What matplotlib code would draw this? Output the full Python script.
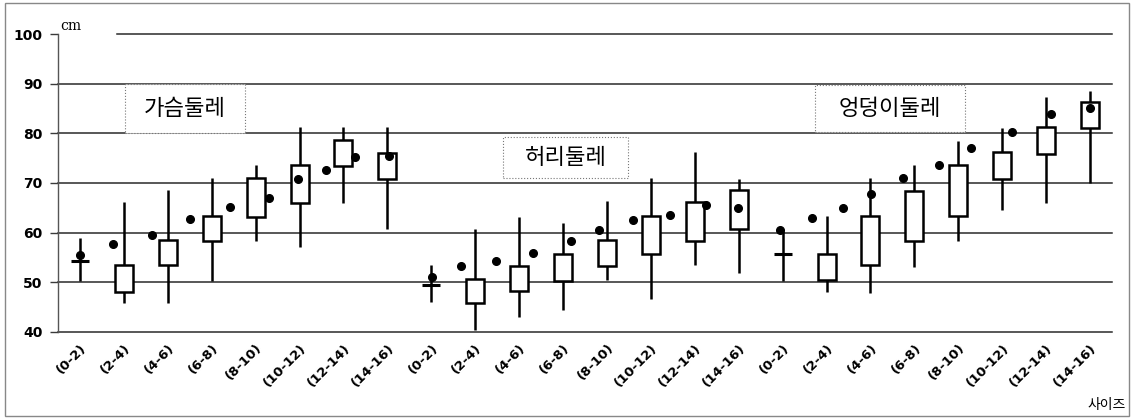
import numpy as np
from matplotlib import pyplot as plt
from matplotlib.patches import Rectangle

plt.rcParams['font.family'] = ['DejaVu Sans', 'Noto Sans CJK KR']

# size groups (same for each measurement)
sizes = ["(0-2)", "(2-4)", "(4-6)", "(6-8)", "(8-10)", "(10-12)", "(12-14)", "(14-16)"]
groups = ["가슴둘레", "허리둘레", "엉덩이둘레"]

# chest
chest_lo = [50.2, 45.8, 45.8, 50.3, 58.3, 57.0, 65.9, 60.7]
chest_q1 = [54.2, 48.1, 53.4, 58.3, 63.2, 66.0, 73.5, 70.8]
chest_q3 = [54.2, 53.4, 58.4, 63.4, 71.0, 73.7, 78.6, 76.1]
chest_hi = [58.8, 66.1, 68.6, 71.0, 73.7, 81.3, 81.2, 81.2]

# waist
waist_lo = [45.9, 40.3, 42.9, 44.4, 50.5, 46.6, 53.4, 51.9]
waist_q1 = [49.5, 45.7, 48.2, 50.3, 53.2, 55.7, 58.3, 60.7]
waist_q3 = [49.5, 50.7, 53.3, 55.7, 58.5, 63.4, 66.1, 68.5]
waist_hi = [53.5, 60.7, 63.2, 62.0, 66.3, 71.0, 76.2, 70.8]

# hip
hip_lo = [50.3, 48.0, 47.8, 53.1, 58.3, 64.6, 66.0, 69.9]
hip_q1 = [55.7, 50.5, 53.4, 58.3, 63.4, 70.8, 75.8, 81.1]
hip_q3 = [55.7, 55.7, 63.3, 68.4, 73.7, 76.2, 81.2, 86.4]
hip_hi = [60.4, 63.4, 71.0, 73.6, 78.5, 81.0, 87.4, 88.6]

# reference dots (position in category units within each group)
chest_dot_x = [0.0, 0.76, 1.65, 2.51, 3.42, 4.31, 4.96, 5.60, 6.26, 7.04]
chest_dot_y = [55.4, 57.6, 59.5, 62.7, 65.2, 66.9, 70.8, 72.7, 75.2, 75.5]
waist_dot_x = [0.01, 0.68, 1.47, 2.32, 3.18, 3.83, 4.60, 5.44, 6.25, 6.99]
waist_dot_y = [51.0, 53.3, 54.2, 55.9, 58.2, 60.6, 62.6, 63.6, 65.5, 64.9]
hip_dot_x = [-0.06, 0.66, 1.38, 2.01, 2.74, 3.57, 4.29, 5.22, 6.11, 6.99]
hip_dot_y = [60.5, 62.9, 65.0, 67.8, 71.0, 73.6, 77.0, 80.2, 84.0, 85.1]

lo = np.array(chest_lo + waist_lo + hip_lo)
q1 = np.array(chest_q1 + waist_q1 + hip_q1)
q3 = np.array(chest_q3 + waist_q3 + hip_q3)
hi = np.array(chest_hi + waist_hi + hip_hi)
labels = sizes * 3
x = np.arange(len(labels))

dot_x = np.concatenate([np.array(chest_dot_x), np.array(waist_dot_x) + 8, np.array(hip_dot_x) + 16])
dot_y = np.array(chest_dot_y + waist_dot_y + hip_dot_y)

fig = plt.figure(figsize=(11.37, 4.18), dpi=100)
ax = fig.add_axes([0.051, 0.2065, 0.927, 0.7115])

# grid lines drawn by hand (100 line starts after the "cm" label)
for g in range(40, 100, 10):
    ax.axhline(g, color='#2a2a2a', lw=1.1, zorder=1, clip_on=False)
ax.axhline(100, xmin=0.056, color='#2a2a2a', lw=1.1, zorder=1, clip_on=False)

# whiskers, then white boxes on top
box_w = 0.41
ax.vlines(x, lo, hi, color='black', lw=1.8, zorder=2)
for i in range(len(x)):
    h = q3[i] - q1[i]
    if h < 0.3:
        ax.hlines(q1[i], x[i] - box_w / 2, x[i] + box_w / 2, color='black', lw=2.2, zorder=3)
    else:
        ax.add_patch(Rectangle((x[i] - box_w / 2, q1[i]), box_w, h,
                               facecolor='white', edgecolor='black', lw=1.8, zorder=3))

ax.plot(dot_x, dot_y, 'o', color='black', markersize=5.5, zorder=4)

ax.set_xlim(-0.5, 23.5)
ax.set_ylim(40, 100)
ax.set_yticks(range(40, 101, 10))
ax.set_xticks(x)
ax.set_xticklabels(labels, rotation=45, ha='right', va='top', rotation_mode='anchor',
                   fontsize=9.5, fontweight='bold')
for t in ax.get_yticklabels():
    t.set_fontweight('bold')
    t.set_fontsize(10)
ax.tick_params(axis='y', length=6, width=1, pad=5, color='#3a3a3a')
ax.tick_params(axis='x', length=0, pad=7)

for s in ['top', 'right', 'bottom']:
    ax.spines[s].set_visible(False)
ax.spines['left'].set_color('#555555')
ax.spines['left'].set_linewidth(1.0)

# group name boxes
name_boxes = [(1.02, 80.0, 2.73, 10.0), (9.63, 71.1, 2.86, 8.1), (16.74, 80.2, 3.41, 9.6)]
for name, (bx, by, bw, bh) in zip(groups, name_boxes):
    ax.add_patch(Rectangle((bx, by), bw, bh, facecolor='white', edgecolor='#777777',
                           lw=0.8, ls=':', zorder=5))
    ax.text(bx + bw / 2, by + bh / 2, name, ha='center', va='center', fontsize=16,
            family=['Noto Sans CJK KR'], zorder=6)

fig.text(60 / 1137, 1 - 26 / 418, "cm", ha='left', va='center', fontsize=10,
         family=['DejaVu Serif'])
fig.text(1126 / 1137, 1 - 405 / 418, "사이즈", ha='right', va='center', fontsize=10,
         family=['Noto Sans CJK KR'])

# outer frame
fig.patches.append(Rectangle((5 / 1137, 2 / 418), 1124 / 1137, 413 / 418, transform=fig.transFigure,
                             fill=False, edgecolor='#888888', lw=1.0))

plt.savefig("out.png", dpi=100)
